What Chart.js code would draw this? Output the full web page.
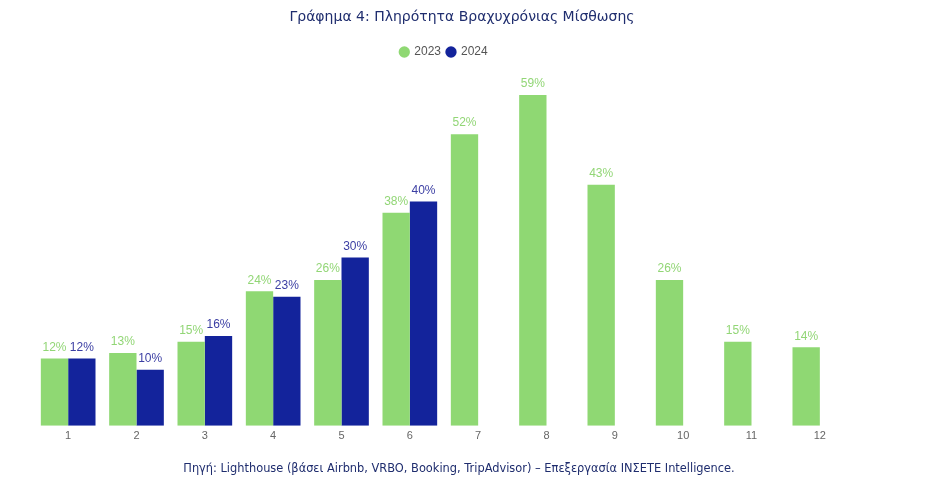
<!DOCTYPE html>
<html lang="el">
<head>
    <meta charset="UTF-8">
    <title>Γράφημα 4</title>
    <script src="https://cdn.jsdelivr.net/npm/chart.js"></script>
    <style>
        body { margin: 0; padding: 0; background: #fff; }
        .wrap { width: 928px; height: 497px; position: relative; }
        .title, .source {
            position: absolute;
            left: 0;
            width: 928px;
            text-align: center;
            color: #1f2d6e;
            font-family: "DejaVu Sans", Verdana, sans-serif;
            white-space: nowrap;
        }
        .title { top: 7px; font-size: 14px; line-height: 18px; left: -2px; }
        .source { top: 461px; font-size: 11.4px; line-height: 14px; left: -5px; }
        canvas { position: absolute; left: 0; top: 0; }
    </style>
</head>
<body>
    <div class="wrap">
        <canvas id="chart"></canvas>
        <div class="title">Γράφημα 4: Πληρότητα Βραχυχρόνιας Μίσθωσης</div>
        <div class="source">Πηγή: Lighthouse (βάσει Airbnb, VRBO, Booking, TripAdvisor) – Επεξεργασία ΙΝΣΕΤΕ Intelligence.</div>
    </div>

    <script>
        const months = ['1', '2', '3', '4', '5', '6', '7', '8', '9', '10', '11', '12'];
        const values2023 = [12, 13, 15, 24, 26, 38, 52, 59, 43, 26, 15, 14];
        const values2024 = [12, 10, 16, 23, 30, 40, null, null, null, null, null, null];

        const green = '#8fd873';
        const blue = '#13239b';

        // simple value labels above each bar
        const barLabels = {
            id: 'barLabels',
            afterDatasetsDraw(chart) {
                const ctx = chart.ctx;
                ctx.save();
                ctx.font = '12px "Liberation Sans", Arial, sans-serif';
                ctx.textAlign = 'center';
                ctx.textBaseline = 'bottom';
                chart.data.datasets.forEach((ds, i) => {
                    const meta = chart.getDatasetMeta(i);
                    ctx.fillStyle = ds.labelColor;
                    meta.data.forEach((bar, j) => {
                        const v = ds.data[j];
                        if (v === null || v === undefined) return;
                        ctx.fillText(v + '%', bar.x, bar.y - 5);
                    });
                });
                ctx.restore();
            }
        };

        new Chart(document.getElementById('chart'), {
            type: 'bar',
            data: {
                labels: months,
                datasets: [
                    { label: '2023', data: values2023, backgroundColor: green, labelColor: '#92d676' },
                    { label: '2024', data: values2024, backgroundColor: blue, labelColor: '#3b3ea3' }
                ]
            },
            options: {
                responsive: true,
                maintainAspectRatio: false,
                animation: false,
                layout: { padding: { left: 34, right: 74, top: 40, bottom: 50 } },
                datasets: { bar: { categoryPercentage: 0.8, barPercentage: 1.0 } },
                scales: {
                    x: {
                        grid: { display: false, drawTicks: false },
                        border: { display: false },
                        ticks: { color: '#666', padding: 4, font: { family: '"Liberation Sans", Arial, sans-serif', size: 11 } }
                    },
                    y: {
                        display: false,
                        min: 0,
                        max: 63.8
                    }
                },
                plugins: {
                    title: { display: false },
                    legend: {
                        display: true,
                        position: 'top',
                        labels: {
                            usePointStyle: true,
                            pointStyle: 'circle',
                            boxWidth: 8,
                            boxHeight: 8,
                            padding: 6,
                            color: '#555',
                            font: { family: '"Liberation Sans", Arial, sans-serif', size: 12 }
                        }
                    },
                    tooltip: { enabled: false }
                }
            },
            plugins: [barLabels]
        });
    </script>
</body>
</html>
